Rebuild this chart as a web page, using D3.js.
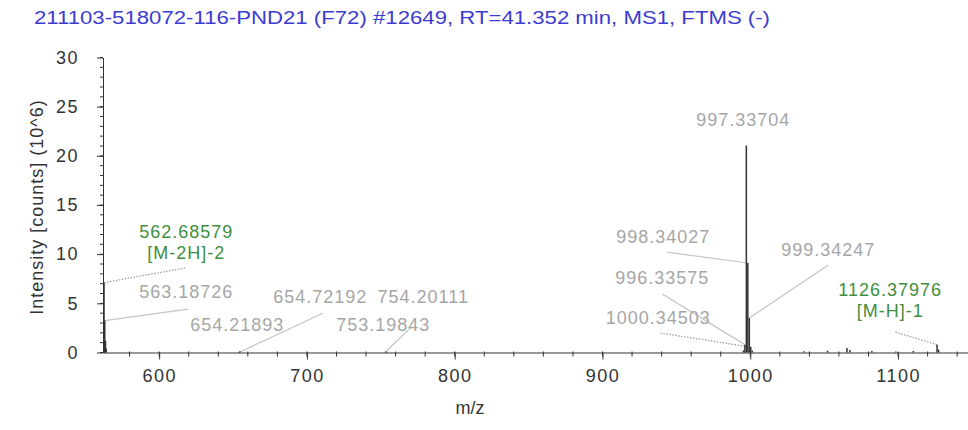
<!DOCTYPE html>
<html>
<head>
<meta charset="utf-8">
<title>MS1 spectrum</title>
<style>
	body { margin: 0; background: #fff; }
	text { font-family: "Liberation Sans", Arial, sans-serif; }
	.axis path, .axis line { stroke: #333; }
	.axis text { fill: #333; font-size: 18px; letter-spacing: 1.5px; }
	.peak { stroke: #333; stroke-width: 1.5; }
	.conn { stroke: #c4c4c4; stroke-width: 1.2; fill: none; }
	.conn.dot { stroke: #999; stroke-dasharray: 1.5 1.5; }
	.lab { font-size: 18px; text-anchor: middle; letter-spacing: 1px; }
	.lab.grey { fill: #a6a6a6; }
	.lab.green { fill: #3f8f3f; }
</style>
</head>
<body>
<script src="https://cdn.jsdelivr.net/npm/d3@7"></script>
<script>
	var titleText = "211103-518072-116-PND21 (F72) #12649, RT=41.352 min, MS1, FTMS (-)";
	var xTitle = "m/z", yTitle = "Intensity [counts] (10^6)";

	// peaks: m/z and intensity (10^6)
	var peakMz  = [562.686, 563.187, 563.689, 564.190, 654.219, 654.722, 753.198, 754.201,
		995.334, 996.336, 997.337, 998.340, 999.342, 1000.345, 1001.348,
		1036.3, 1052.3, 1065.4, 1067.4, 1082.3, 1098.4, 1110.3, 1126.380, 1127.38];
	var peakInt = [7.1, 3.25, 1.2, 0.4, 0.08, 0.1, 0.1, 0.08,
		0.2, 0.8, 21.05, 9.1, 3.5, 0.55, 0.2,
		0.12, 0.18, 0.45, 0.25, 0.15, 0.1, 0.15, 0.8, 0.3];

	// annotations: label text, peak it points to, label anchor (m/z, intensity), line end, colour, style
	var annText  = ["562.68579", "563.18726", "654.72192", "654.21893", "754.20111", "753.19843",
		"997.33704", "998.34027", "999.34247", "996.33575", "1000.34503", "1126.37976"];
	var annSub   = ["[M-2H]-2", "", "", "", "", "", "", "", "", "", "", "[M-H]-1"];
	var annPeakMz  = [562.686, 563.187, 654.722, null, null, 753.198, null, 998.340, 999.342, 996.336, 1000.345, 1126.380];
	var annPeakInt = [7.1, 3.25, 0.05, null, null, 0.05, null, 9.1, 3.5, 0.8, 0.55, 0.8];
	var annMz   = [618.3, 618.3, 709.0, 652.8, 778.7, 751.6, 995.3, 941.1, 1052.8, 940.4, 937.7, 1094.7];
	var annInt  = [12.25, 6.15, 5.64, 2.8, 5.64, 2.8, 23.7, 11.75, 10.5, 7.58, 3.5, 6.36];
	var endMz   = [617.6, 619.6, 711.0, null, null, 770.0, null, 943.8, 1052.8, 940.4, 939.1, 1098.1];
	var endInt  = [8.6, 4.42, 4.02, null, null, 2.5, null, 10.2, 8.9, 5.95, 1.98, 2.08];
	var annGreen = [1, 0, 0, 0, 0, 0, 0, 0, 0, 0, 0, 1];
	var annDotted = [1, 0, 0, 0, 0, 0, 0, 0, 0, 0, 1, 1];

	var xTicks = [600, 700, 800, 900, 1000, 1100];
	var yTicks = [0, 5, 10, 15, 20, 25, 30];

	var W = 968, H = 430;
	var svg = d3.select("body").append("svg").attr("width", W).attr("height", H);

	var x = d3.scaleLinear().domain([562, 1148]).range([103, 969]);
	var y = d3.scaleLinear().domain([0, 30]).range([352.5, 57.5]);

	// title
	svg.append("text").attr("x", 34).attr("y", 24)
		.style("font-size", "18px").style("fill", "#3c3cd0")
		.attr("textLength", 736).attr("lengthAdjust", "spacingAndGlyphs")
		.text(titleText);

	// minor ticks
	var gx = svg.append("g").attr("class", "axis");
	gx.selectAll("line.minor").data(d3.range(580, 1148, 20)).enter().append("line")
		.attr("x1", x).attr("x2", x).attr("y1", y(0) - 1).attr("y2", y(0) + 4);
	var gy = svg.append("g").attr("class", "axis");
	gy.selectAll("line.minor").data(d3.range(0, 31, 1)).enter().append("line")
		.attr("y1", y).attr("y2", y).attr("x1", x.range()[0]).attr("x2", x.range()[0] - 3);

	svg.append("g").attr("class", "axis")
		.attr("transform", "translate(0," + y(0) + ")")
		.call(d3.axisBottom(x).tickValues(xTicks).tickFormat(d3.format("d"))
			.tickSize(7).tickPadding(10).tickSizeOuter(0));
	svg.append("g").attr("class", "axis")
		.attr("transform", "translate(" + x.range()[0] + ",0)")
		.call(d3.axisLeft(y).tickValues(yTicks).tickSize(6).tickPadding(18).tickSizeOuter(0));

	// axis titles
	svg.append("text").attr("x", 470).attr("y", 414).attr("text-anchor", "middle")
		.style("font-size", "18px").style("fill", "#333").text(xTitle);
	svg.append("text").attr("transform", "translate(43,207) rotate(-90)").attr("text-anchor", "middle")
		.style("font-size", "18px").style("letter-spacing", "1px").style("fill", "#333").text(yTitle);

	// connectors
	var ann = annText.map(function(t, i) { return i; });
	svg.selectAll("line.conn").data(ann.filter(function(i) { return annPeakMz[i] !== null; }))
		.enter().append("line")
		.attr("class", function(i) { return annDotted[i] ? "conn dot" : "conn"; })
		.attr("x1", function(i) { return x(annPeakMz[i]); })
		.attr("y1", function(i) { return y(annPeakInt[i]); })
		.attr("x2", function(i) { return x(endMz[i]); })
		.attr("y2", function(i) { return y(endInt[i]); });

	// peaks
	svg.selectAll("line.peak").data(peakMz).enter().append("line")
		.attr("class", "peak")
		.attr("x1", function(d) { return x(d); }).attr("x2", function(d) { return x(d); })
		.attr("y1", y(0)).attr("y2", function(d, i) { return y(peakInt[i]); });

	// labels
	var lab = svg.selectAll("g.ann").data(ann).enter().append("g")
		.attr("transform", function(i) { return "translate(" + x(annMz[i]) + "," + y(annInt[i]) + ")"; });
	lab.append("text").attr("class", function(i) { return annGreen[i] ? "lab green" : "lab grey"; })
		.attr("dy", "0.35em").text(function(i) { return annText[i]; });
	lab.filter(function(i) { return annSub[i]; }).append("text").attr("class", "lab green")
		.attr("y", 21).attr("dy", "0.35em").text(function(i) { return annSub[i]; });
</script>
</body>
</html>
